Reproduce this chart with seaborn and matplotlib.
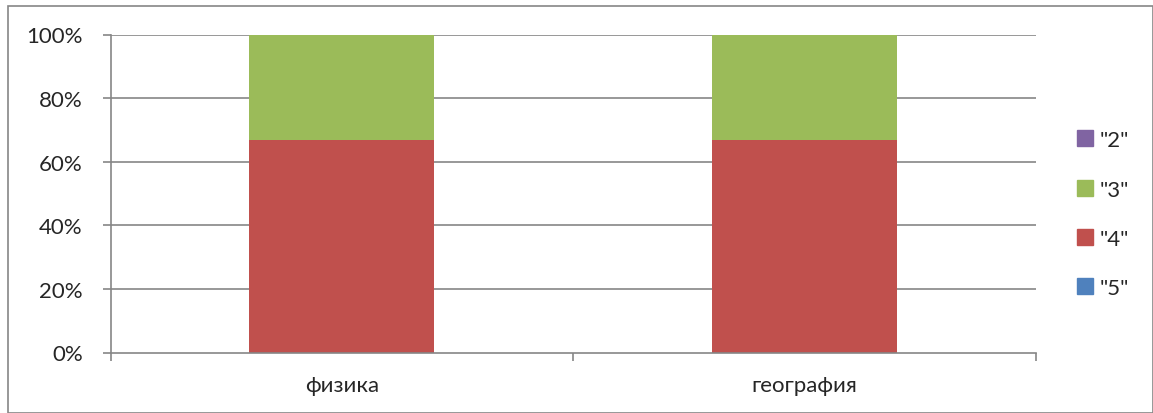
import matplotlib
matplotlib.use('Agg')
import matplotlib.pyplot as plt
import seaborn as sns
import pandas as pd
from matplotlib.patches import Rectangle

subjects = ['физика', 'география']
grade5 = [0.0, 0.0]
grade4 = [66.7, 66.7]
grade3 = [33.3, 33.3]
grade2 = [0.0, 0.0]
yticks = [0, 20, 40, 60, 80, 100]
ytick_labels = ['0%', '20%', '40%', '60%', '80%', '100%']

series = [('"5"', grade5, '#4F81BD'),
          ('"4"', grade4, '#C0504D'),
          ('"3"', grade3, '#9BBB59'),
          ('"2"', grade2, '#8064A2')]

sns.set_style('white')
plt.rcParams['font.family'] = ['Lato', 'DejaVu Sans']

W, H = 1153, 414
fig = plt.figure(figsize=(W/100, H/100), dpi=100)
ax = fig.add_axes([110.5/W, 1-353.5/H, 925.5/W, 318/H])

grid_c = '#868686'
for v in yticks[1:]:
    ax.axhline(v, color=grid_c, lw=1.2, zorder=0)

bottom = [0.0, 0.0]
for name, vals, col in series:
    df = pd.DataFrame({'subject': subjects, 'value': vals})
    sns.barplot(data=df, x='subject', y='value', color=col, bottom=bottom,
                width=0.4, ax=ax, zorder=2, saturation=1, linewidth=0)
    bottom = [b + v for b, v in zip(bottom, vals)]

ax.set_xlim(-0.5, 1.5)
ax.set_ylim(0, 100)
ax.set_yticks(yticks)
ax.set_yticklabels(ytick_labels)
ax.set_xticks([0, 1])
ax.set_xticks([-0.5, 0.5, 1.5], minor=True)
ax.tick_params(axis='x', which='major', bottom=True, length=0, pad=16, labelsize=16)
ax.tick_params(axis='x', which='minor', bottom=True, length=6, color=grid_c, width=1.2)
ax.tick_params(axis='y', left=True, length=6, color=grid_c, width=1.2, pad=14, labelsize=16)
ax.set_xlabel('')
ax.set_ylabel('')
for s in ['top', 'right']:
    ax.spines[s].set_visible(False)
for s in ['left', 'bottom']:
    ax.spines[s].set_color(grid_c)
    ax.spines[s].set_linewidth(1.2)

handles = [Rectangle((0, 0), 1, 1, color=c) for _, _, c in series][::-1]
labels = [n for n, _, _ in series][::-1]
ax.legend(handles, labels, loc='center left',
          bbox_to_anchor=((1068 - 110.5)/925.5, 0.435),
          frameon=False, fontsize=16, labelspacing=1.32, handlelength=0.72,
          handleheight=0.72, handletextpad=0.3, borderaxespad=0)

fig.patches.append(Rectangle((8/W, 0), 1 - 8/W, 1 - 6.5/H,
                             transform=fig.transFigure, fill=False,
                             edgecolor=grid_c, lw=1.2))

fig.savefig('out.png', dpi=100)
